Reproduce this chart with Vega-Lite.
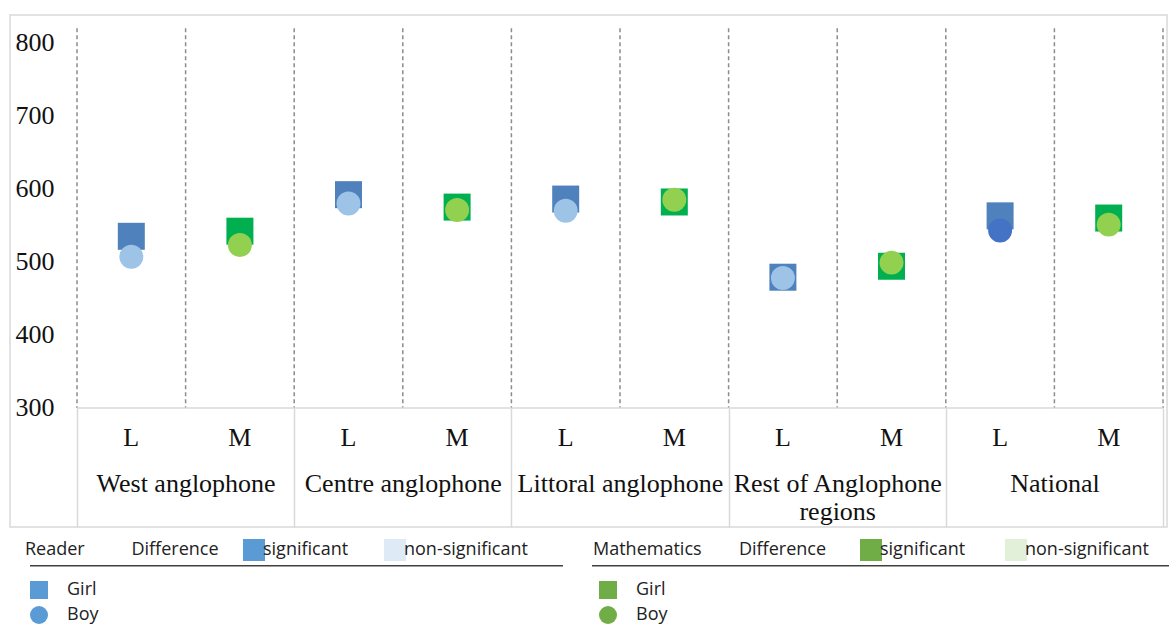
{
  "$schema": "https://vega.github.io/schema/vega-lite/v6.json",
  "width": 1157,
  "height": 512,
  "autosize": "none",
  "padding": {"left": 10, "top": 15, "right": 2, "bottom": 97},
  "background": "white",
  "config": {
    "view": {"stroke": "#d9d9d9", "strokeWidth": 1.5},
    "axis": {"labelFont": "Liberation Serif", "labelColor": "#111", "titleFont": "Liberation Serif"},
    "legend": {"labelFont": "Open Sans", "titleFont": "Open Sans", "labelColor": "#222", "titleColor": "#222", "padding": 0}
  },
  "data": {
    "values": [
      {"col": "West anglophone L", "region": "West anglophone", "subject": "L", "sex": "Girl", "score": 535, "difference": "significant", "series": "Reading girl"},
      {"col": "West anglophone M", "region": "West anglophone", "subject": "M", "sex": "Girl", "score": 542, "difference": "significant", "series": "Mathematics girl"},
      {"col": "Centre anglophone L", "region": "Centre anglophone", "subject": "L", "sex": "Girl", "score": 592, "difference": "significant", "series": "Reading girl"},
      {"col": "Centre anglophone M", "region": "Centre anglophone", "subject": "M", "sex": "Girl", "score": 575, "difference": "non-significant", "series": "Mathematics girl"},
      {"col": "Littoral anglophone L", "region": "Littoral anglophone", "subject": "L", "sex": "Girl", "score": 586, "difference": "significant", "series": "Reading girl"},
      {"col": "Littoral anglophone M", "region": "Littoral anglophone", "subject": "M", "sex": "Girl", "score": 582, "difference": "non-significant", "series": "Mathematics girl"},
      {"col": "Rest of Anglophone regions L", "region": "Rest of Anglophone regions", "subject": "L", "sex": "Girl", "score": 479, "difference": "non-significant", "series": "Reading girl"},
      {"col": "Rest of Anglophone regions M", "region": "Rest of Anglophone regions", "subject": "M", "sex": "Girl", "score": 494, "difference": "non-significant", "series": "Mathematics girl"},
      {"col": "National L", "region": "National", "subject": "L", "sex": "Girl", "score": 563, "difference": "significant", "series": "Reading girl"},
      {"col": "National M", "region": "National", "subject": "M", "sex": "Girl", "score": 560, "difference": "significant", "series": "Mathematics girl"},
      {"col": "West anglophone L", "region": "West anglophone", "subject": "L", "sex": "Boy", "score": 507, "difference": "significant", "series": "Reading boy"},
      {"col": "West anglophone M", "region": "West anglophone", "subject": "M", "sex": "Boy", "score": 523, "difference": "significant", "series": "Mathematics boy"},
      {"col": "Centre anglophone L", "region": "Centre anglophone", "subject": "L", "sex": "Boy", "score": 580, "difference": "significant", "series": "Reading boy"},
      {"col": "Centre anglophone M", "region": "Centre anglophone", "subject": "M", "sex": "Boy", "score": 571, "difference": "non-significant", "series": "Mathematics boy"},
      {"col": "Littoral anglophone L", "region": "Littoral anglophone", "subject": "L", "sex": "Boy", "score": 570, "difference": "significant", "series": "Reading boy"},
      {"col": "Littoral anglophone M", "region": "Littoral anglophone", "subject": "M", "sex": "Boy", "score": 585, "difference": "non-significant", "series": "Mathematics boy"},
      {"col": "Rest of Anglophone regions L", "region": "Rest of Anglophone regions", "subject": "L", "sex": "Boy", "score": 478, "difference": "non-significant", "series": "Reading boy"},
      {"col": "Rest of Anglophone regions M", "region": "Rest of Anglophone regions", "subject": "M", "sex": "Boy", "score": 499, "difference": "non-significant", "series": "Mathematics boy"},
      {"col": "National L", "region": "National", "subject": "L", "sex": "Boy", "score": 543, "difference": "significant", "series": "Reading boy, national"},
      {"col": "National M", "region": "National", "subject": "M", "sex": "Boy", "score": 551, "difference": "significant", "series": "Mathematics boy"}
    ]
  },
  "layer": [
    {
      "mark": {"type": "rule", "opacity": 0},
      "encoding": {
        "x": {
          "field": "region", "type": "nominal", "sort": null,
          "scale": {"paddingInner": 0, "paddingOuter": 0.1634, "align": 0.9437},
          "axis": {
            "orient": "bottom", "title": null, "domain": false, "grid": false,
            "ticks": true, "tickBand": "extent", "tickSize": -119, "tickColor": "#d9d9d9", "tickWidth": 1.5,
            "labelAngle": 0, "labelFontSize": 26, "labelBaseline": "top", "labelPadding": 62, "labelLimit": 0,
            "labelLineHeight": 28,
            "labelExpr": "datum.label == 'Rest of Anglophone regions' ? ['Rest of Anglophone', 'regions'] : datum.label"
          }
        }
      }
    },
    {
      "layer": [
        {
          "transform": [{"filter": "datum.sex == 'Girl'"}],
          "mark": {"type": "rule", "strokeDash": [4, 3], "color": "#8c8c8c", "strokeWidth": 1.5},
          "encoding": {
            "x": {
              "field": "col", "type": "nominal", "sort": null, "bandPosition": 0,
              "scale": {"paddingInner": 0, "paddingOuter": 0.3269, "align": 0.9437},
              "axis": {
                "orient": "bottom", "title": null, "domain": false, "ticks": false, "grid": false,
                "labelAngle": 0, "labelFontSize": 26, "labelBaseline": "middle", "labelPadding": -90,
                "labelExpr": "substring(datum.label, length(datum.label) - 1)"
              }
            },
            "y": {
              "datum": 820, "type": "quantitative",
              "scale": {"domain": [137, 838], "nice": false, "zero": false},
              "axis": {
                "title": null, "values": [300, 400, 500, 600, 700, 800], "domain": false, "ticks": false,
                "grid": false, "labelFontSize": 26, "labelAlign": "left", "labelPadding": -5, "labelColor": "#111"
              }
            },
            "y2": {"datum": 300}
          }
        },
        {
          "transform": [{"filter": "datum.col == 'National M' && datum.sex == 'Girl'"}],
          "mark": {"type": "rule", "strokeDash": [4, 3], "color": "#8c8c8c", "strokeWidth": 1.5},
          "encoding": {
            "x": {"field": "col", "type": "nominal", "sort": null, "bandPosition": 1},
            "y": {"datum": 820, "type": "quantitative"},
            "y2": {"datum": 300}
          }
        },
        {
          "transform": [{"filter": "datum.sex == 'Girl'"}],
          "mark": {"type": "rect", "fill": null, "stroke": "#d9d9d9", "strokeWidth": 1.5},
          "encoding": {
            "x": {"field": "col", "type": "nominal", "sort": null},
            "y": {"datum": 300, "type": "quantitative"},
            "y2": {"datum": 300}
          }
        },
        {
          "transform": [{"filter": "datum.subject == 'L'"}],
          "mark": {"type": "point", "filled": true, "opacity": 1},
          "encoding": {
            "x": {"field": "col", "type": "nominal", "sort": null},
            "y": {"field": "score", "type": "quantitative"},
            "shape": {
              "field": "sex", "type": "nominal",
              "scale": {"domain": ["Girl", "Boy"], "range": ["square", "circle"]},
              "legend": {
                "title": null, "orient": "none", "legendX": 20, "legendY": 566,
                "symbolFillColor": "#5B9BD5", "symbolStrokeWidth": 0, "symbolSize": 324, "symbolOpacity": 1,
                "labelFontSize": 18, "labelOffset": 19, "rowPadding": 7,
                "encode": {"symbols": {"update": {"shape": {"signal": "datum.value === 'Girl' ? 'M-1.2,-0.9H1.2V0.9H-1.2Z' : 'M-1.3,0A1.3,0.9 0 1,1 1.3,0A1.3,0.9 0 1,1 -1.3,0Z'"}}}}
              }
            },
            "size": {"field": "sex", "type": "nominal", "scale": {"domain": ["Girl", "Boy"], "range": [729, 573]}, "legend": null},
            "fill": {
              "field": "series", "type": "nominal",
              "scale": {
                "domain": ["Reading girl", "Reading boy", "Reading boy, national", "Mathematics girl", "Mathematics boy"],
                "range": ["#4F81BD", "#9DC3E6", "#4472C4", "#00B050", "#92D050"]
              },
              "legend": null
            }
          }
        },
        {
          "transform": [{"filter": "datum.subject == 'M'"}],
          "mark": {"type": "point", "filled": true, "opacity": 1},
          "encoding": {
            "x": {"field": "col", "type": "nominal", "sort": null},
            "y": {"field": "score", "type": "quantitative"},
            "shape": {
              "field": "sex", "type": "nominal",
              "scale": {"domain": ["Girl", "Boy"], "range": ["square", "circle"]},
              "legend": {
                "title": null, "orient": "none", "legendX": 589, "legendY": 566,
                "symbolFillColor": "#70AD47", "symbolStrokeWidth": 0, "symbolSize": 324, "symbolOpacity": 1,
                "labelFontSize": 18, "labelOffset": 19, "rowPadding": 7,
                "encode": {"symbols": {"update": {"shape": {"signal": "datum.value === 'Girl' ? 'M-1.2,-0.9H1.2V0.9H-1.2Z' : 'M-1.3,0A1.3,0.9 0 1,1 1.3,0A1.3,0.9 0 1,1 -1.3,0Z'"}}}}
              }
            },
            "size": {"field": "sex", "type": "nominal", "scale": {"domain": ["Girl", "Boy"], "range": [729, 573]}, "legend": null},
            "fill": {"field": "series", "type": "nominal", "legend": null}
          }
        },
        {
          "transform": [{"filter": "datum.subject == 'L'"}],
          "mark": {"type": "point", "filled": true, "opacity": 0},
          "encoding": {
            "x": {"field": "col", "type": "nominal", "sort": null},
            "y": {"field": "score", "type": "quantitative"},
            "color": {
              "field": "difference", "type": "nominal",
              "scale": {"domain": ["significant", "non-significant"], "range": ["#5B9BD5", "#DEEBF7"]},
              "legend": {
                "title": "Reader\u00a0\u00a0\u00a0\u00a0\u00a0\u00a0\u00a0\u00a0\u00a0\u00a0Difference",
                "titleOrient": "left", "titleFontSize": 18, "titleFontWeight": "normal", "titlePadding": 24,
                "titleBaseline": "middle", "titleLimit": 0,
                "orient": "none", "legendX": 15, "legendY": 524, "direction": "horizontal",
                "symbolType": "square", "symbolSize": 484, "symbolOpacity": 1, "symbolStrokeWidth": 0,
                "labelFontSize": 18, "labelOffset": -2, "columnPadding": 35, "labelLimit": 0
              }
            }
          }
        },
        {
          "transform": [{"filter": "datum.subject == 'M'"}],
          "mark": {"type": "point", "filled": true, "opacity": 0},
          "encoding": {
            "x": {"field": "col", "type": "nominal", "sort": null},
            "y": {"field": "score", "type": "quantitative"},
            "color": {
              "field": "difference", "type": "nominal",
              "scale": {"domain": ["significant", "non-significant"], "range": ["#70AD47", "#E2F0D9"]},
              "legend": {
                "title": "Mathematics\u00a0\u00a0\u00a0\u00a0\u00a0\u00a0\u00a0\u00a0Difference",
                "titleOrient": "left", "titleFontSize": 18, "titleFontWeight": "normal", "titlePadding": 33,
                "titleBaseline": "middle", "titleLimit": 0,
                "orient": "none", "legendX": 583, "legendY": 524, "direction": "horizontal",
                "symbolType": "square", "symbolSize": 484, "symbolOpacity": 1, "symbolStrokeWidth": 0,
                "labelFontSize": 18, "labelOffset": -2, "columnPadding": 39, "labelLimit": 0
              }
            }
          }
        },
        {
          "transform": [{"filter": "datum.subject == 'L'"}],
          "mark": {"type": "point", "filled": true, "opacity": 0},
          "encoding": {
            "x": {"field": "col", "type": "nominal", "sort": null},
            "y": {"field": "score", "type": "quantitative"},
            "stroke": {
              "field": "score", "type": "quantitative",
              "scale": {"range": ["#404040", "#404040"]},
              "legend": {
                "type": "gradient", "title": null, "labelExpr": "''", "labelOpacity": 0, "labelFontSize": 1,
                "orient": "none", "legendX": 20, "legendY": 550,
                "direction": "horizontal", "gradientLength": 533, "gradientThickness": 1.5,
                "gradientStrokeWidth": 0, "gradientOpacity": 1
              }
            }
          }
        },
        {
          "transform": [{"filter": "datum.subject == 'M'"}],
          "mark": {"type": "point", "filled": true, "opacity": 0},
          "encoding": {
            "x": {"field": "col", "type": "nominal", "sort": null},
            "y": {"field": "score", "type": "quantitative"},
            "stroke": {
              "field": "score", "type": "quantitative",
              "scale": {"range": ["#404040", "#404040"]},
              "legend": {
                "type": "gradient", "title": null, "labelExpr": "''", "labelOpacity": 0, "labelFontSize": 1,
                "orient": "none", "legendX": 582, "legendY": 550,
                "direction": "horizontal", "gradientLength": 580, "gradientThickness": 1.5,
                "gradientStrokeWidth": 0, "gradientOpacity": 1
              }
            }
          }
        }
      ],
      "resolve": {"scale": {"color": "independent", "shape": "independent", "stroke": "independent"}}
    }
  ],
  "resolve": {"scale": {"x": "independent"}, "axis": {"x": "independent"}}
}
